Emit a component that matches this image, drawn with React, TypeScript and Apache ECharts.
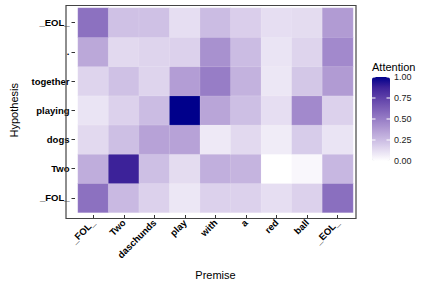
import React, { useEffect, useRef } from "react";
import * as echarts from "echarts";

const xCats = ["_FOL_", "Two", "daschunds", "play", "with", "a", "red", "ball", "_EOL_"];
const yCats = ["_FOL_", "Two", "dogs", "playing", "together", ".", "_EOL_"];

const rowFOL = [0.55, 0.26, 0.17, 0.09, 0.17, 0.17, 0.12, 0.17, 0.56];
const rowTwo = [0.31, 0.88, 0.24, 0.13, 0.3, 0.28, 0.0, 0.03, 0.27];
const rowDogs = [0.14, 0.24, 0.35, 0.35, 0.08, 0.14, 0.07, 0.19, 0.1];
const rowPlaying = [0.1, 0.17, 0.25, 1.0, 0.34, 0.24, 0.12, 0.45, 0.17];
const rowTogether = [0.16, 0.23, 0.16, 0.37, 0.5, 0.29, 0.09, 0.21, 0.38];
const rowDot = [0.33, 0.14, 0.16, 0.17, 0.42, 0.25, 0.1, 0.16, 0.45];
const rowEOL = [0.55, 0.23, 0.23, 0.12, 0.25, 0.18, 0.12, 0.13, 0.38];

const legendTicks = [0, 0.25, 0.5, 0.75, 1];
const legendLabels = ["0.00", "0.25", "0.50", "0.75", "1.00"];

const rows = [rowFOL, rowTwo, rowDogs, rowPlaying, rowTogether, rowDot, rowEOL];

const scaleColors = [
  "#FFFFFF", "#E5DDF1", "#CBBCE3", "#B29CD4", "#977DC6",
  "#7C5FB7", "#5F41A9", "#3E239A", "#00008B",
];

const FONT = "Liberation Sans, Arial, Helvetica, sans-serif";

export default function App() {
  const ref = useRef<HTMLDivElement>(null);
  useEffect(() => {
    document.body.style.margin = "0";
    const chart = echarts.init(ref.current!, null, { renderer: "svg" });
    const data: [number, number, number][] = [];
    rows.forEach((r, yi) => r.forEach((v, xi) => data.push([xi, yi, v])));

    const barTop = 77;
    const barLen = 84;
    const barLeft = 372;
    const barW = 18;
    const tickY = (v: number) => barTop + barLen - v * barLen;
    const legendGraphics: any[] = [];
    legendTicks.forEach((t, i) => {
      const y = tickY(t);
      legendGraphics.push(
        { type: "line", z: 100, shape: { x1: barLeft, y1: y, x2: barLeft + 3.5, y2: y }, style: { stroke: "#fff", lineWidth: 1 } },
        { type: "line", z: 100, shape: { x1: barLeft + barW - 3.5, y1: y, x2: barLeft + barW, y2: y }, style: { stroke: "#fff", lineWidth: 1 } },
        { type: "text", z: 100, x: barLeft + barW + 4, y, style: { text: legendLabels[i], fontSize: 9, fontFamily: FONT, fill: "#222", verticalAlign: "middle", align: "left" } }
      );
    });

    chart.setOption({
      animation: false,
      backgroundColor: "#fff",
      grid: { left: 69, top: 8, width: 284, height: 208 },
      xAxis: {
        type: "category",
        data: xCats,
        offset: 2.5,
        axisLine: { show: false },
        axisTick: { show: true, alignWithLabel: true, length: 3.5, lineStyle: { color: "#333" } },
        axisLabel: { rotate: 45, margin: 6, fontSize: 9.5, fontWeight: "bold", color: "#000", fontFamily: FONT, interval: 0 },
        splitLine: { show: false },
        name: "Premise",
        nameLocation: "middle",
        nameGap: 54,
        nameTextStyle: { fontSize: 11, color: "#000", fontFamily: FONT },
      },
      yAxis: {
        type: "category",
        data: yCats,
        offset: 3,
        axisLine: { show: false },
        axisTick: { show: true, alignWithLabel: true, length: 3.5, lineStyle: { color: "#333" } },
        axisLabel: { margin: 5.5, fontSize: 9.5, fontWeight: "bold", color: "#000", fontFamily: FONT, interval: 0 },
        name: "Hypothesis",
        nameLocation: "middle",
        nameGap: 56,
        nameRotate: 90,
        nameTextStyle: { fontSize: 11, color: "#000", fontFamily: FONT },
      },
      visualMap: {
        type: "continuous",
        min: 0,
        max: 1,
        orient: "vertical",
        left: barLeft,
        top: barTop,
        itemWidth: barW,
        itemHeight: barLen,
        calculable: false,
        hoverLink: false,
        padding: 0,
        inRange: { color: scaleColors },
      },
      series: [
        {
          type: "heatmap",
          data,
          itemStyle: { borderColor: "rgba(255,255,255,0.25)", borderWidth: 0.5 },
          emphasis: { disabled: true },
        },
      ],
      graphic: [
        {
          type: "rect",
          z: 50,
          shape: { x: 66, y: 5.5, width: 290, height: 213 },
          style: { fill: "none", stroke: "#444", lineWidth: 1.2 },
        },
        {
          type: "text",
          z: 100,
          x: barLeft,
          y: 67,
          style: { text: "Attention", fontSize: 11, fontFamily: FONT, fill: "#000", verticalAlign: "middle", align: "left" },
        },
        ...legendGraphics,
      ],
    });
    return () => chart.dispose();
  }, []);
  return <div ref={ref} style={{ width: 427, height: 285 }} />;
}
